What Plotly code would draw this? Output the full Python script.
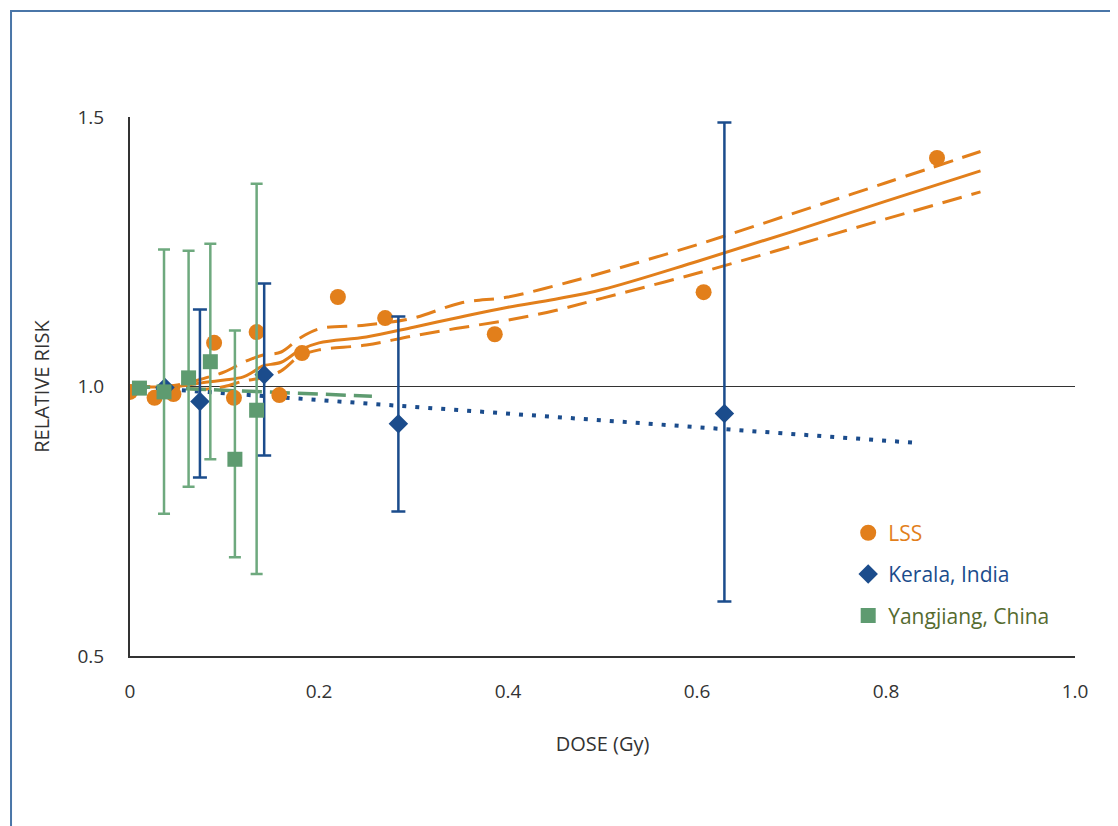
import plotly.graph_objects as go

# ---------------- data ----------------
lss_dose = [0.0, 0.026, 0.046, 0.089, 0.110, 0.134, 0.158, 0.182, 0.220, 0.270, 0.386, 0.607, 0.854]
lss_rr = [0.990, 0.979, 0.986, 1.081, 0.979, 1.101, 0.984, 1.062, 1.166, 1.127, 1.097, 1.175, 1.424]

kerala_dose = [0.037, 0.074, 0.142, 0.284, 0.629]
kerala_rr = [0.998, 0.972, 1.022, 0.931, 0.950]
kerala_upper = [0.998, 1.143, 1.191, 1.130, 1.490]
kerala_lower = [0.998, 0.831, 0.872, 0.768, 0.601]

yang_dose = [0.010, 0.036, 0.062, 0.085, 0.111, 0.134]
yang_rr = [0.997, 0.990, 1.016, 1.046, 0.865, 0.956]
yang_upper = [0.997, 1.254, 1.252, 1.265, 1.104, 1.376]
yang_lower = [0.997, 0.764, 0.814, 0.865, 0.683, 0.652]

fit_dose = [0.0, 0.05, 0.08, 0.10, 0.12, 0.13, 0.14, 0.16, 0.18, 0.20, 0.25, 0.30, 0.35, 0.40, 0.45,
            0.50, 0.60, 0.70, 0.80, 0.90]
lss_fit = [1.000, 1.000, 1.008, 1.012, 1.018, 1.027, 1.038, 1.045, 1.068, 1.081, 1.092, 1.110, 1.129,
           1.147, 1.162, 1.180, 1.232, 1.287, 1.344, 1.400]
lss_fit_hi = [1.000, 1.003, 1.016, 1.027, 1.045, 1.052, 1.058, 1.064, 1.090, 1.107, 1.114, 1.127, 1.155,
              1.166, 1.187, 1.211, 1.263, 1.320, 1.378, 1.436]
lss_fit_lo = [1.000, 0.997, 0.995, 1.000, 1.010, 1.013, 1.016, 1.029, 1.057, 1.068, 1.077, 1.094, 1.109,
              1.123, 1.141, 1.164, 1.210, 1.260, 1.311, 1.361]

kerala_fit_dose = [0.0, 0.835]
kerala_fit_rr = [1.0, 0.895]

yang_fit_dose = [0.0, 0.256]
yang_fit_rr = [1.0, 0.982]

x_ticks = [0, 0.2, 0.4, 0.6, 0.8, 1.0]
x_tick_labels = ["0", "0.2", "0.4", "0.6", "0.8", "1.0"]
y_ticks = [0.5, 1.0, 1.5]
y_tick_labels = ["0.5", "1.0", "1.5"]

# ---------------- style ----------------
ORANGE = "#E27F1B"
BLUE = "#1B4C8C"
GREEN = "#5E9B70"
GREEN_BAR = "#6EA97E"
GREEN_TEXT = "#556B2F"
AXIS = "#333333"
FONT = "Open Sans"

fig = go.Figure()

# fit lines
fig.add_trace(go.Scatter(x=fit_dose, y=lss_fit_hi, mode="lines", showlegend=False, hoverinfo="skip",
                         line=dict(color=ORANGE, width=3, dash="20px,10px", shape="spline")))
fig.add_trace(go.Scatter(x=fit_dose, y=lss_fit_lo, mode="lines", showlegend=False, hoverinfo="skip",
                         line=dict(color=ORANGE, width=3, dash="20px,10px", shape="spline")))
fig.add_trace(go.Scatter(x=fit_dose, y=lss_fit, mode="lines", showlegend=False, hoverinfo="skip",
                         line=dict(color=ORANGE, width=3, shape="spline")))
fig.add_trace(go.Scatter(x=kerala_fit_dose, y=kerala_fit_rr, mode="lines", showlegend=False, hoverinfo="skip",
                         line=dict(color=BLUE, width=4, dash="4px,9px")))
fig.add_trace(go.Scatter(x=yang_fit_dose, y=yang_fit_rr, mode="lines", showlegend=False, hoverinfo="skip",
                         line=dict(color=GREEN, width=3.5, dash="20px,8px")))

# data points
fig.add_trace(go.Scatter(
    x=lss_dose, y=lss_rr, mode="markers", legendgroup="a",
    name=f"<span style='color:{ORANGE}'>LSS</span>",
    marker=dict(symbol="circle", size=16, color=ORANGE)))

fig.add_trace(go.Scatter(
    x=kerala_dose, y=kerala_rr, mode="markers", legendgroup="b",
    name=f"<span style='color:{BLUE}'>Kerala, India</span>",
    marker=dict(symbol="diamond", size=15, color=BLUE),
    error_y=dict(type="data", symmetric=False,
                 array=[u - r for u, r in zip(kerala_upper, kerala_rr)],
                 arrayminus=[r - l for l, r in zip(kerala_lower, kerala_rr)],
                 color=BLUE, thickness=2.5, width=7)))

fig.add_trace(go.Scatter(
    x=yang_dose, y=yang_rr, mode="markers", legendgroup="c",
    name=f"<span style='color:{GREEN_TEXT}'>Yangjiang, China</span>",
    marker=dict(symbol="square", size=15, color=GREEN),
    error_y=dict(type="data", symmetric=False,
                 array=[u - r for u, r in zip(yang_upper, yang_rr)],
                 arrayminus=[r - l for l, r in zip(yang_lower, yang_rr)],
                 color=GREEN_BAR, thickness=2.5, width=6)))

fig.update_layout(
    width=1118, height=826,
    margin=dict(l=122, r=51, t=109, b=178),
    paper_bgcolor="white", plot_bgcolor="white",
    font=dict(family=FONT, size=19, color=AXIS),
    showlegend=True,
    legend=dict(x=0.76, y=0.266, xanchor="left", yanchor="top",
                traceorder="grouped", tracegroupgap=11,
                font=dict(family=FONT, size=21), bgcolor="rgba(0,0,0,0)"),
    xaxis=dict(range=[0, 1.0], tickvals=x_ticks, ticktext=x_tick_labels,
               showgrid=False, zeroline=False, showline=True, linecolor=AXIS, linewidth=2,
               ticks="", ticklabelstandoff=17,
               title=dict(text="DOSE (Gy)", standoff=34, font=dict(size=20))),
    yaxis=dict(range=[0.5, 1.5], tickvals=y_ticks, ticktext=y_tick_labels,
               showgrid=False, zeroline=False, showline=True, linecolor=AXIS, linewidth=2,
               ticks="", ticklabelstandoff=20,
               title=dict(text="RELATIVE RISK", standoff=22, font=dict(size=20))),
    shapes=[
        dict(type="line", xref="paper", yref="y", x0=0, x1=1, y0=1.0, y1=1.0,
             line=dict(color=AXIS, width=1.2), layer="below"),
        dict(type="rect", xref="paper", yref="paper", x0=-0.1259, x1=1.2, y0=-0.4, y1=1.1967,
             line=dict(color="#4A76A8", width=2), fillcolor="rgba(0,0,0,0)", layer="below"),
    ],
)

fig.write_html("out.html")
